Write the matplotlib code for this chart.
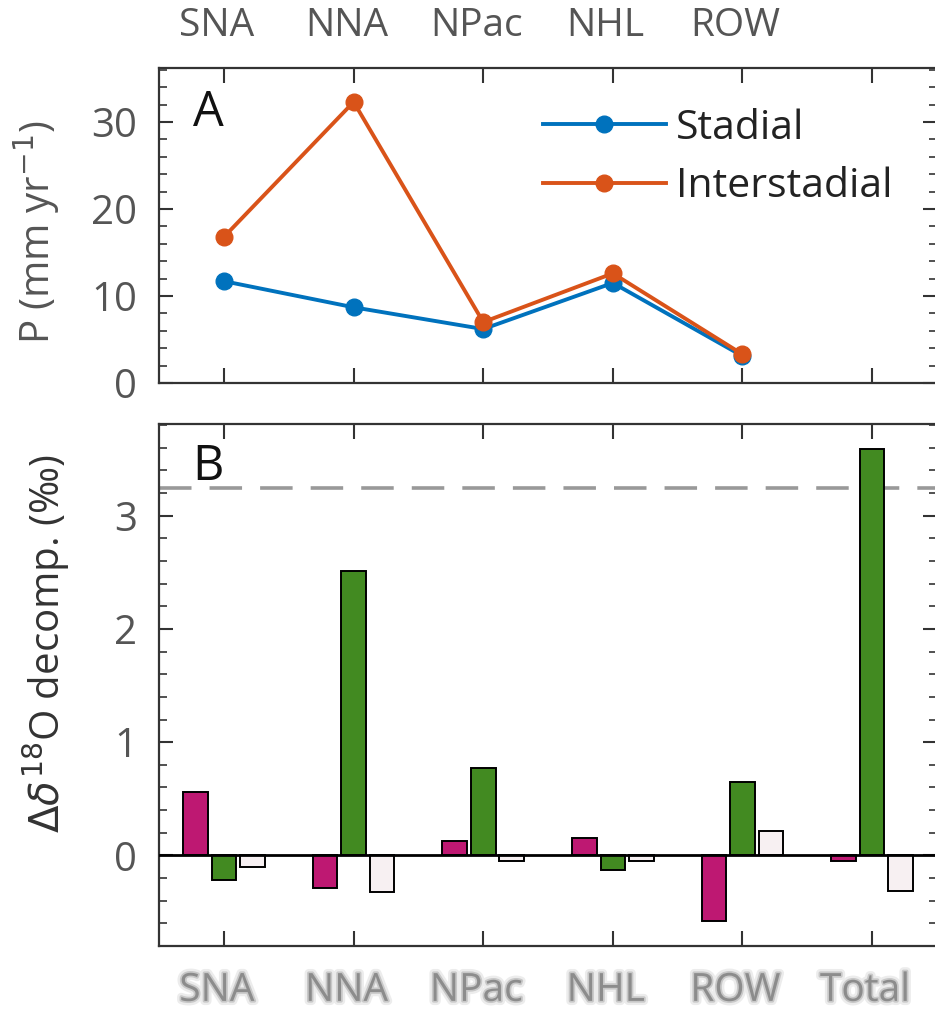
import matplotlib
matplotlib.use('Agg')
import matplotlib.pyplot as plt
import matplotlib.patheffects as pe
from matplotlib.ticker import MultipleLocator
import numpy as np

# Regions and precipitation (mm/yr) for the two climate states
regions = ['SNA', 'NNA', 'NPac', 'NHL', 'ROW']
stadial = [11.7, 8.7, 6.2, 11.5, 3.1]
interstadial = [16.8, 32.3, 7.0, 12.6, 3.3]

# d18O decomposition terms (permil) per region plus the total
groups = ['SNA', 'NNA', 'NPac', 'NHL', 'ROW', 'Total']
term_source = [0.56, -0.29, 0.13, 0.15, -0.575, -0.05]
term_amount = [-0.215, 2.51, 0.77, -0.13, 0.645, 3.59]
term_resid = [-0.105, -0.325, -0.05, -0.05, 0.215, -0.31]
observed_change = 3.245

plt.rcParams['font.family'] = ['Open Sans', 'DejaVu Sans']
plt.rcParams['axes.linewidth'] = 1.6
plt.rcParams['axes.edgecolor'] = '#333333'

fig = plt.figure(figsize=(9.35, 10.17), dpi=100)
ax_a = fig.add_axes([0.1703, 0.6234, 0.8317, 0.3097])
ax_b = fig.add_axes([0.1703, 0.0698, 0.8317, 0.5133])

tick_col = '#555555'
x_reg = np.arange(1, len(regions) + 1)
x_grp = np.arange(1, len(groups) + 1)

def style_axes(ax, major, minor):
    ax.set_xlim(0.5, 6.5)
    ax.set_xticks(x_grp)
    ax.set_xticklabels([])
    ax.yaxis.set_major_locator(MultipleLocator(major))
    ax.yaxis.set_minor_locator(MultipleLocator(minor))
    ax.tick_params(axis='both', which='both', direction='in',
                   top=True, right=True, color='#333333')
    ax.tick_params(axis='x', which='major', length=11, width=1.5)
    ax.tick_params(axis='y', which='major', length=10, width=1.5,
                   labelsize=29, labelcolor=tick_col, pad=16)
    ax.tick_params(axis='y', which='minor', length=6, width=1.2)
    ax.tick_params(axis='x', which='minor', bottom=False, top=False)

# Panel A: precipitation lines
ax_a.plot(x_reg, stadial, '-o', color='#0072BD', lw=2.8, ms=12,
          label='Stadial')
ax_a.plot(x_reg, interstadial, '-o', color='#D95319', lw=2.8, ms=12,
          label='Interstadial')
style_axes(ax_a, 10, 2)
ax_a.set_ylim(0, 36.2)
ax_a.set_ylabel('P (mm yr$^{-1}$)', fontsize=29, color=tick_col)
ax_a.yaxis.set_label_coords(-0.125, 0.48)
ax_a.text(0.043, 0.935, 'A', transform=ax_a.transAxes, fontsize=35,
          va='top', ha='left', color='#111111')
leg = ax_a.legend(loc='upper left', bbox_to_anchor=(0.472, 0.925),
                  borderaxespad=0, frameon=False, fontsize=29.5,
                  handlelength=3.0, handletextpad=0.25, labelspacing=0.45)
for t in leg.get_texts():
    t.set_color('#222222')

# region names across the top
for xi, name in zip(x_reg, regions):
    fig.text(ax_a.transData.transform((xi - 0.055, 0))[0] / fig.bbox.width,
             0.974, name, ha='center', va='center', fontsize=28,
             color='#555555')

# Panel B: decomposition bars
w = 0.19
off = 0.22
ax_b.axhline(observed_change, color='#999999', lw=2.6, dashes=(9, 5),
             zorder=1)
ax_b.bar(x_grp - off, term_source, w, color='#BE1872', edgecolor='black',
         lw=1.4, zorder=2)
ax_b.bar(x_grp, term_amount, w, color='#428A21', edgecolor='black',
         lw=1.4, zorder=2)
ax_b.bar(x_grp + off, term_resid, w, color='#F7F0F2', edgecolor='black',
         lw=1.4, zorder=2)
ax_b.axhline(0, color='black', lw=2, zorder=3)
style_axes(ax_b, 1, 0.2)
ax_b.set_ylim(-0.8, 3.81)
ax_b.set_ylabel(r'$\Delta\delta^{18}$O decomp. (‰)', fontsize=29,
                color='#333333')
ax_b.yaxis.set_label_coords(-0.112, 0.58)
ax_b.text(0.043, 0.965, 'B', transform=ax_b.transAxes, fontsize=35,
          va='top', ha='left', color='#111111')

# soft grey group names under panel B
soft = [pe.Stroke(linewidth=6, foreground='#ececec'),
        pe.Stroke(linewidth=2.5, foreground='#c8c8c8'),
        pe.Normal()]
for xi, name in zip(x_grp, groups):
    ax_b.text(xi - 0.055, -0.086, name, transform=ax_b.get_xaxis_transform(),
              ha='center', va='center', fontsize=28, color='#8c8c8c',
              path_effects=soft, clip_on=False)

fig.savefig('out.png', dpi=100)
